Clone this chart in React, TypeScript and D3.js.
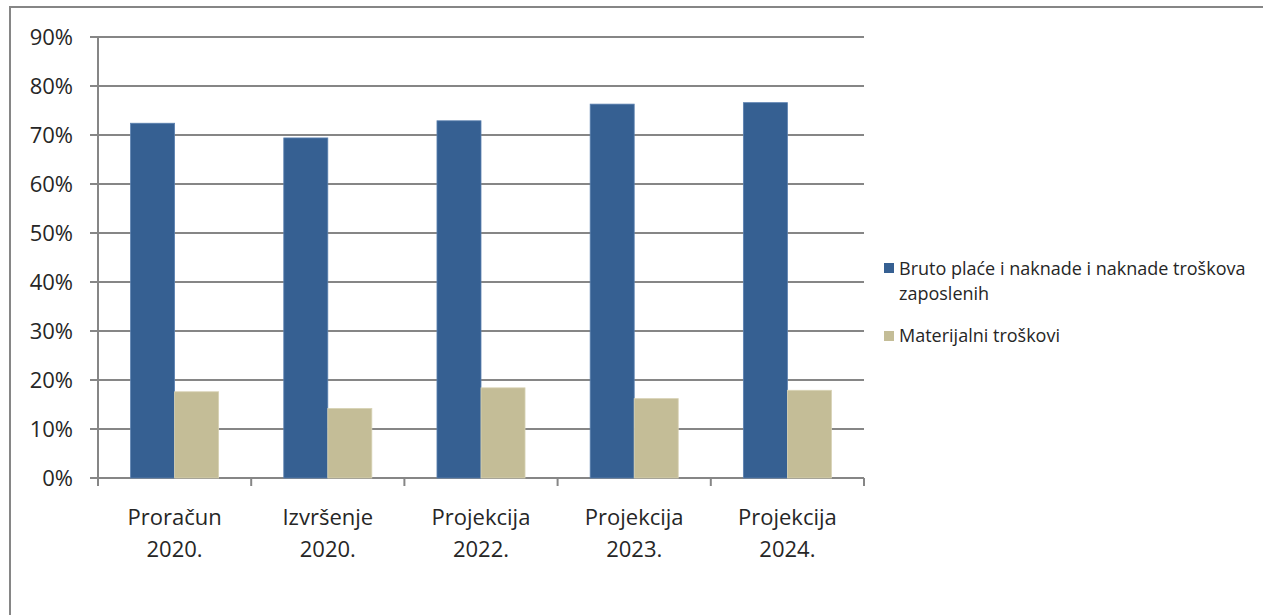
import React from "react";
import * as d3 from "d3";

const categories: string[][] = [
  ["Proračun", "2020."],
  ["Izvršenje", "2020."],
  ["Projekcija", "2022."],
  ["Projekcija", "2023."],
  ["Projekcija", "2024."],
];
const seriesNames = ["Bruto plaće i naknade i naknade troškova zaposlenih", "Materijalni troškovi"];
const bruto = [72.4, 69.4, 72.9, 76.3, 76.6];
const materijalni = [17.6, 14.2, 18.4, 16.2, 17.9];
const yTicks = [0, 10, 20, 30, 40, 50, 60, 70, 80, 90];
const colors = ["#366092", "#C4BD97"];

const FONT = "'Open Sans', 'Liberation Sans', sans-serif";

export default function App() {
  const W = 1263, H = 615;
  const x0 = 98, x1 = 864, yTop = 37, yBot = 478;
  const y = d3.scaleLinear().domain([0, 90]).range([yBot, yTop]);
  const x = d3.scaleBand<number>().domain(d3.range(categories.length)).range([x0, x1]).paddingInner(0).paddingOuter(0);
  const bw = x.bandwidth();
  const barW = bw / (2 + 1.48);
  const series = [bruto, materijalni];
  return (
    <svg width={W} height={H} style={{ position: "absolute", left: 0, top: 0, display: "block" }}>
      <rect x={0} y={0} width={W} height={H} fill="#fff" />
      <rect x={10} y={7} width={W + 20} height={H + 20} fill="none" stroke="#868686" strokeWidth={2} />
      {yTicks.map((t) => (
        <g key={t}>
          <line x1={90} x2={x1} y1={y(t)} y2={y(t)} stroke="#868686" strokeWidth={2} />
          <text x={73} y={y(t)} dy="0.36em" textAnchor="end" fontFamily={FONT} fontSize={22} fill="#262626">
            {t}%
          </text>
        </g>
      ))}
      <line x1={x0} x2={x0} y1={yTop} y2={yBot} stroke="#868686" strokeWidth={2} />
      {d3.range(categories.length + 1).map((i) => {
        const xx = x0 + i * bw;
        return <line key={i} x1={xx} x2={xx} y1={yBot} y2={yBot + 8} stroke="#868686" strokeWidth={2} />;
      })}
      {series.map((vals, s) =>
        vals.map((v, i) => {
          const cx = (x(i) as number) + bw / 2;
          const bx = cx - barW + s * barW;
          return (
            <rect key={`${s}-${i}`} x={bx} y={y(v)} width={barW} height={yBot - y(v)} fill={colors[s]}
              stroke={s === 0 ? "#5b80b0" : "#d8d2b4"} strokeWidth={0.8} />
          );
        })
      )}
      {categories.map((c, i) => (
        <text key={i} textAnchor="middle" fontFamily={FONT} fontSize={22} fill="#262626">
          {c.map((line, j) => (
            <tspan key={j} x={(x(i) as number) + bw / 2} y={525 + j * 32}>{line}</tspan>
          ))}
        </text>
      ))}
      <rect x={884} y={263} width={10} height={10} fill={colors[0]} />
      <text fontFamily={FONT} fontSize={18} fill="#262626">
        <tspan x={899} y={275}>Bruto plaće i naknade i naknade troškova</tspan>
        <tspan x={899} y={300}>zaposlenih</tspan>
      </text>
      <rect x={884} y={331} width={10} height={10} fill={colors[1]} />
      <text x={899} y={342} fontFamily={FONT} fontSize={18} fill="#262626">{seriesNames[1]}</text>
    </svg>
  );
}
